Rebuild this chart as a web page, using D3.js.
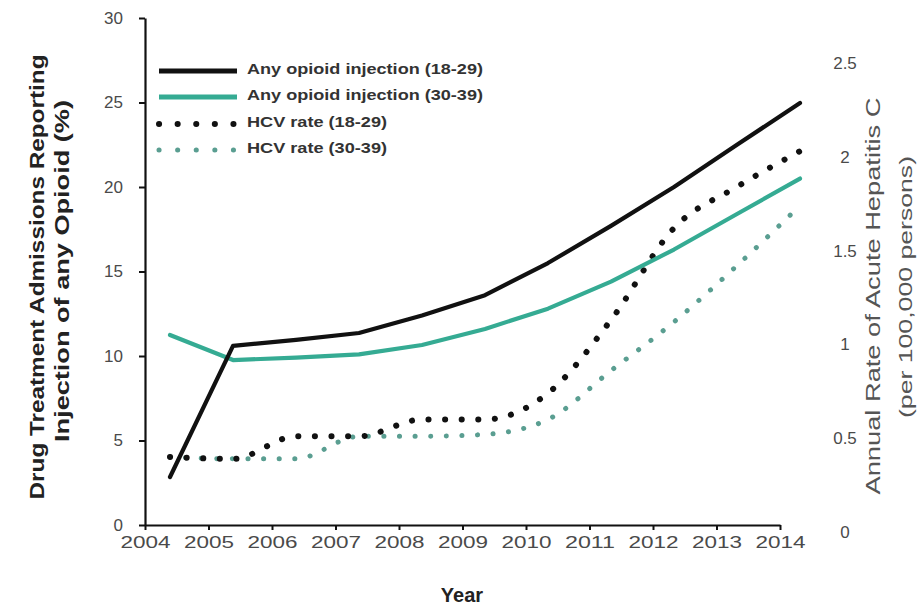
<!DOCTYPE html>
<html>
<head>
<meta charset="utf-8">
<script src="https://cdn.jsdelivr.net/npm/d3@7"></script>
<style>
  body { margin: 0; background: #fff; }
  svg { display: block; font-family: "Liberation Sans", Arial, sans-serif; }
</style>
</head>
<body>
<div id="chart"></div>
<script>
// data
const years = [2004, 2005, 2006, 2007, 2008, 2009, 2010, 2011, 2012, 2013, 2014];
const opioid_18_29 = [2.84, 10.6, 10.95, 11.36, 12.4, 13.6, 15.5, 17.7, 20.0, 22.5, 24.97];
const opioid_30_39 = [11.24, 9.76, 9.9, 10.1, 10.65, 11.6, 12.8, 14.4, 16.3, 18.4, 20.5];
const hcv_18_29 = [0.40, 0.39, 0.51, 0.51, 0.60, 0.60, 0.74, 1.13, 1.62, 1.84, 2.03];
const hcv_30_39 = [0.40, 0.39, 0.39, 0.51, 0.51, 0.52, 0.60, 0.86, 1.12, 1.42, 1.74];
const leftTicks = [0, 5, 10, 15, 20, 25, 30];
const rightTicks = [0, 0.5, 1, 1.5, 2, 2.5];
const legendLabels = ["Any opioid injection (18-29)", "Any opioid injection (30-39)", "HCV rate (18-29)", "HCV rate (30-39)"];

const config = {
    width: 920,
    height: 607,
    black: "#111",
    teal: "#35ab93",
    tealDot: "#5a9e91",
    tickColor: "#4a4a4a",
};

const svg = d3.select("#chart").append("svg")
    .attr("width", config.width)
    .attr("height", config.height);

// axis positions vs where the series sit (series are shifted right in the original)
const x_axis = d3.scaleLinear().domain([2004, 2014]).range([145, 780]);
const x_data = d3.scaleLinear().domain([2004, 2014]).range([170, 800]);
const y_left = d3.scaleLinear().domain([0, 30]).range([525, 18]);
const y_right = d3.scaleLinear().domain([0, 2.5]).range([532, 63]);

// axes
const g_axisX = svg.append("g").attr("transform", `translate(0, ${y_left(0)})`)
    .call(d3.axisBottom(x_axis).tickValues(years).tickFormat(d3.format("d")).tickSize(5).tickSizeOuter(0).tickPadding(6));
const g_axisY = svg.append("g").attr("transform", `translate(${x_axis(2004)}, 0)`)
    .call(d3.axisLeft(y_left).tickValues(leftTicks).tickSize(6).tickSizeOuter(0).tickPadding(16));
const g_axisR = svg.append("g").attr("transform", `translate(845, 0)`)
    .call(d3.axisRight(y_right).tickValues(rightTicks).tickSize(0).tickFormat(d => d));
g_axisR.select(".domain").remove();
g_axisR.selectAll("text").attr("x", 0).attr("text-anchor", "middle");

[g_axisX, g_axisY].forEach(g => {
    g.select(".domain").attr("stroke", config.black).attr("stroke-width", 2.2);
    g.selectAll(".tick line").attr("stroke", config.black).attr("stroke-width", 2);
});
[g_axisX, g_axisY, g_axisR].forEach(g => {
    g.selectAll("text").attr("font-size", 17).attr("fill", config.tickColor)
        .attr("font-family", "Liberation Sans, Arial, sans-serif");
});
g_axisX.selectAll("text").attr("textLength", 50).attr("lengthAdjust", "spacingAndGlyphs");

// series: solid lines are straight segments, dotted ones are smoothed
const series = [
    { values: opioid_18_29, scale: y_left, color: config.black, width: 4.2, dash: null, curve: d3.curveLinear },
    { values: opioid_30_39, scale: y_left, color: config.teal, width: 4.2, dash: null, curve: d3.curveLinear },
    { values: hcv_18_29, scale: y_right, color: config.black, width: 6, dash: "0.1 16.5", curve: d3.curveMonotoneX },
    { values: hcv_30_39, scale: y_right, color: config.tealDot, width: 5, dash: "0.1 15.5", curve: d3.curveMonotoneX },
];

const g_lines = svg.append("g");
series.slice().reverse().forEach(s => {
    const line = d3.line()
        .x((d, i) => x_data(years[i]))
        .y(d => s.scale(d))
        .curve(s.curve);
    g_lines.append("path")
        .attr("d", line(s.values))
        .attr("fill", "none")
        .attr("stroke", s.color)
        .attr("stroke-width", s.width)
        .attr("stroke-linecap", "round")
        .attr("stroke-linejoin", "round")
        .attr("stroke-dasharray", s.dash);
});

// legend
const legendY = [71, 97, 124, 150];
const g_legend = svg.append("g");
series.forEach((s, i) => {
    g_legend.append("line")
        .attr("x1", 159).attr("x2", 237)
        .attr("y1", legendY[i]).attr("y2", legendY[i])
        .attr("stroke", s.color)
        .attr("stroke-width", s.dash ? s.width : 5)
        .attr("stroke-linecap", s.dash ? "round" : "butt")
        .attr("stroke-dasharray", s.dash ? "0.1 18.5" : null);
    g_legend.append("text")
        .attr("x", 247).attr("y", legendY[i] - 1)
        .attr("dominant-baseline", "middle")
        .attr("font-size", 14)
        .attr("font-weight", "bold")
        .attr("fill", "#333")
        .attr("textLength", i < 2 ? 236 : 140)
        .attr("lengthAdjust", "spacingAndGlyphs")
        .text(legendLabels[i]);
});

// axis titles
svg.append("text")
    .attr("x", 462).attr("y", 602)
    .attr("text-anchor", "middle")
    .attr("font-size", 20).attr("font-weight", "bold").attr("fill", "#222")
    .text("Year");

const g_leftTitle = svg.append("g").attr("transform", "translate(0, 277) rotate(-90)");
g_leftTitle.append("text")
    .attr("x", 0).attr("y", 44)
    .attr("text-anchor", "middle")
    .attr("font-size", 20).attr("font-weight", "bold").attr("fill", "#222")
    .attr("textLength", 445).attr("lengthAdjust", "spacingAndGlyphs")
    .text("Drug Treatment Admissions Reporting");
g_leftTitle.append("text")
    .attr("x", 6).attr("y", 69)
    .attr("text-anchor", "middle")
    .attr("font-size", 20).attr("font-weight", "bold").attr("fill", "#222")
    .attr("textLength", 342).attr("lengthAdjust", "spacingAndGlyphs")
    .text("Injection of any Opioid (%)");

const g_rightTitle = svg.append("g").attr("transform", "translate(0, 296) rotate(-90)");
g_rightTitle.append("text")
    .attr("x", 0).attr("y", 880)
    .attr("text-anchor", "middle")
    .attr("font-size", 20).attr("fill", "#555")
    .attr("textLength", 397).attr("lengthAdjust", "spacingAndGlyphs")
    .text("Annual Rate of Acute Hepatitis C");
g_rightTitle.append("text")
    .attr("x", 9).attr("y", 912)
    .attr("text-anchor", "middle")
    .attr("font-size", 19).attr("fill", "#555")
    .attr("textLength", 262).attr("lengthAdjust", "spacingAndGlyphs")
    .text("(per 100,000 persons)");
</script>
</body>
</html>
